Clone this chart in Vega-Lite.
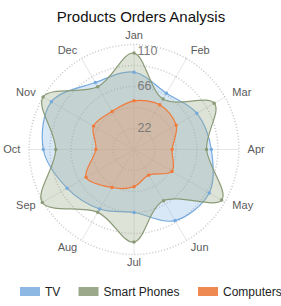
{
  "$schema": "https://vega.github.io/schema/vega-lite/v6.json",
  "width": 268,
  "height": 240,
  "autosize": "none",
  "padding": {"left": 0, "top": 29.5, "right": 13, "bottom": 36.5},
  "config": {"font": "Liberation Sans", "view": {"stroke": null}},
  "title": {"text": "Products Orders Analysis", "fontSize": 15, "fontWeight": "normal", "color": "#111", "anchor": "middle", "dx": 7, "offset": 5},
  "datasets": {
    "orders": [
      {"month": "Jan", "series": "TV", "value": 81},
      {"month": "Feb", "series": "TV", "value": 68},
      {"month": "Mar", "series": "TV", "value": 76},
      {"month": "Apr", "series": "TV", "value": 81},
      {"month": "May", "series": "TV", "value": 91},
      {"month": "Jun", "series": "TV", "value": 86},
      {"month": "Jul", "series": "TV", "value": 66},
      {"month": "Aug", "series": "TV", "value": 72},
      {"month": "Sep", "series": "TV", "value": 81},
      {"month": "Oct", "series": "TV", "value": 95},
      {"month": "Nov", "series": "TV", "value": 100},
      {"month": "Dec", "series": "TV", "value": 81},
      {"month": "Jan", "series": "Smart Phones", "value": 101},
      {"month": "Feb", "series": "Smart Phones", "value": 61},
      {"month": "Mar", "series": "Smart Phones", "value": 97},
      {"month": "Apr", "series": "Smart Phones", "value": 76},
      {"month": "May", "series": "Smart Phones", "value": 106},
      {"month": "Jun", "series": "Smart Phones", "value": 62},
      {"month": "Jul", "series": "Smart Phones", "value": 97},
      {"month": "Aug", "series": "Smart Phones", "value": 76},
      {"month": "Sep", "series": "Smart Phones", "value": 111},
      {"month": "Oct", "series": "Smart Phones", "value": 82},
      {"month": "Nov", "series": "Smart Phones", "value": 110},
      {"month": "Dec", "series": "Smart Phones", "value": 76},
      {"month": "Jan", "series": "Computers", "value": 51},
      {"month": "Feb", "series": "Computers", "value": 54},
      {"month": "Mar", "series": "Computers", "value": 51},
      {"month": "Apr", "series": "Computers", "value": 40},
      {"month": "May", "series": "Computers", "value": 46},
      {"month": "Jun", "series": "Computers", "value": 31},
      {"month": "Jul", "series": "Computers", "value": 39},
      {"month": "Aug", "series": "Computers", "value": 46},
      {"month": "Sep", "series": "Computers", "value": 58},
      {"month": "Oct", "series": "Computers", "value": 40},
      {"month": "Nov", "series": "Computers", "value": 49},
      {"month": "Dec", "series": "Computers", "value": 46}
    ],
    "months": [
      {"month": "Jan"}, {"month": "Feb"}, {"month": "Mar"}, {"month": "Apr"},
      {"month": "May"}, {"month": "Jun"}, {"month": "Jul"}, {"month": "Aug"},
      {"month": "Sep"}, {"month": "Oct"}, {"month": "Nov"}, {"month": "Dec"}
    ],
    "rings": [
      {"ring": 22, "k": [0,1,2,3,4,5,6,7,8,9,10,11]},
      {"ring": 44, "k": [0,1,2,3,4,5,6,7,8,9,10,11]},
      {"ring": 66, "k": [0,1,2,3,4,5,6,7,8,9,10,11]},
      {"ring": 88, "k": [0,1,2,3,4,5,6,7,8,9,10,11]},
      {"ring": 110, "k": [0,1,2,3,4,5,6,7,8,9,10,11]}
    ],
    "ticks": [
      {"ring": 22, "label": "22"},
      {"ring": 66, "label": "66"},
      {"ring": 110, "label": "110"}
    ]
  },
  "layer": [
    {
      "data": {"name": "months"},
      "transform": [
        {"calculate": "indexof(['Jan','Feb','Mar','Apr','May','Jun','Jul','Aug','Sep','Oct','Nov','Dec'], datum.month) * PI / 6", "as": "a"},
        {"calculate": "0", "as": "x0"},
        {"calculate": "0", "as": "y0"},
        {"calculate": "110 * sin(datum.a)", "as": "x"},
        {"calculate": "110 * cos(datum.a)", "as": "y"}
      ],
      "mark": {"type": "rule", "stroke": "#e6e6e6", "strokeWidth": 1},
      "encoding": {
        "x": {"field": "x0", "type": "quantitative", "scale": {"domain": [-140.4, 140.4], "nice": false, "zero": false}, "axis": null},
        "y": {"field": "y0", "type": "quantitative", "scale": {"domain": [-125.7, 125.7], "nice": false, "zero": false}, "axis": null},
        "x2": {"field": "x"},
        "y2": {"field": "y"}
      }
    },
    {
      "data": {"name": "rings"},
      "transform": [
        {"flatten": ["k"]},
        {"calculate": "datum.k * PI / 6", "as": "a"},
        {"calculate": "datum.ring * sin(datum.a)", "as": "x"},
        {"calculate": "datum.ring * cos(datum.a)", "as": "y"}
      ],
      "mark": {"type": "line", "interpolate": "cardinal-closed", "stroke": "#c8c8c8", "strokeWidth": 1.5, "strokeDash": [1, 2]},
      "encoding": {
        "x": {"field": "x", "type": "quantitative"},
        "y": {"field": "y", "type": "quantitative"},
        "detail": {"field": "ring", "type": "nominal"},
        "order": {"field": "k", "type": "quantitative"}
      }
    },
    {
      "data": {"name": "orders"},
      "transform": [
        {"calculate": "indexof(['Jan','Feb','Mar','Apr','May','Jun','Jul','Aug','Sep','Oct','Nov','Dec'], datum.month)", "as": "idx"},
        {"calculate": "datum.idx * PI / 6", "as": "a"},
        {"calculate": "datum.value * sin(datum.a)", "as": "x"},
        {"calculate": "datum.value * cos(datum.a)", "as": "y"}
      ],
      "layer": [
        {
          "mark": {"type": "line", "interpolate": "cardinal-closed", "strokeWidth": 1.2, "fillOpacity": 0.33},
          "encoding": {
            "x": {"field": "x", "type": "quantitative"},
            "y": {"field": "y", "type": "quantitative"},
            "order": {"field": "idx", "type": "quantitative"},
            "fill": {
              "field": "series", "type": "nominal",
              "scale": {"domain": ["TV", "Smart Phones", "Computers"], "range": ["#8db8e3", "#9ba98a", "#ee8a51"]},
              "legend": {
                "title": null, "orient": "none", "direction": "horizontal",
                "legendX": 20, "legendY": 252,
                "symbolType": "M-1,-0.45H1V0.45H-1Z", "symbolSize": 400,
                "labelFontSize": 12, "labelColor": "#222", "labelOffset": 5, "columnPadding": 17.5,
                "symbolOpacity": 1, "symbolStrokeWidth": 0
              }
            },
            "stroke": {
              "field": "series", "type": "nominal",
              "scale": {"domain": ["TV", "Smart Phones", "Computers"], "range": ["#75a9de", "#8a9a76", "#f07a3a"]},
              "legend": null
            }
          }
        },
        {
          "mark": {"type": "point", "filled": true, "size": 12, "opacity": 1},
          "encoding": {
            "x": {"field": "x", "type": "quantitative"},
            "y": {"field": "y", "type": "quantitative"},
            "color": {
              "field": "series", "type": "nominal",
              "scale": {"domain": ["TV", "Smart Phones", "Computers"], "range": ["#75a9de", "#8a9a76", "#f07a3a"]},
              "legend": null
            }
          }
        }
      ]
    },
    {
      "data": {"name": "ticks"},
      "transform": [
        {"calculate": "0", "as": "x"},
        {"calculate": "min(datum.ring, 103.5)", "as": "y"}
      ],
      "mark": {"type": "text", "align": "left", "baseline": "middle", "dx": 3.5, "fontSize": 12.5, "fill": "#7a7a7a"},
      "encoding": {
        "x": {"field": "x", "type": "quantitative"},
        "y": {"field": "y", "type": "quantitative"},
        "text": {"field": "label", "type": "nominal"}
      }
    },
    {
      "data": {"name": "months"},
      "transform": [
        {"calculate": "indexof(['Jan','Feb','Mar','Apr','May','Jun','Jul','Aug','Sep','Oct','Nov','Dec'], datum.month) * PI / 6", "as": "a"},
        {"calculate": "119 * sin(datum.a)", "as": "x"},
        {"calculate": "119 * cos(datum.a)", "as": "y"},
        {"calculate": "datum.x > 10 ? 'L' : (datum.x < -10 ? 'R' : 'C')", "as": "side"}
      ],
      "layer": [
        {
          "transform": [{"filter": "datum.side == 'L'"}],
          "mark": {"type": "text", "baseline": "middle", "align": "left", "fontSize": 11, "fill": "#5a5a5a"},
          "encoding": {
            "x": {"field": "x", "type": "quantitative"},
            "y": {"field": "y", "type": "quantitative"},
            "text": {"field": "month", "type": "nominal"}
          }
        },
        {
          "transform": [{"filter": "datum.side == 'R'"}],
          "mark": {"type": "text", "baseline": "middle", "align": "right", "fontSize": 11, "fill": "#5a5a5a"},
          "encoding": {
            "x": {"field": "x", "type": "quantitative"},
            "y": {"field": "y", "type": "quantitative"},
            "text": {"field": "month", "type": "nominal"}
          }
        },
        {
          "transform": [{"filter": "datum.side == 'C'"}],
          "mark": {"type": "text", "baseline": "middle", "align": "center", "fontSize": 11, "fill": "#5a5a5a"},
          "encoding": {
            "x": {"field": "x", "type": "quantitative"},
            "y": {"field": "y", "type": "quantitative"},
            "text": {"field": "month", "type": "nominal"}
          }
        }
      ]
    }
  ]
}
